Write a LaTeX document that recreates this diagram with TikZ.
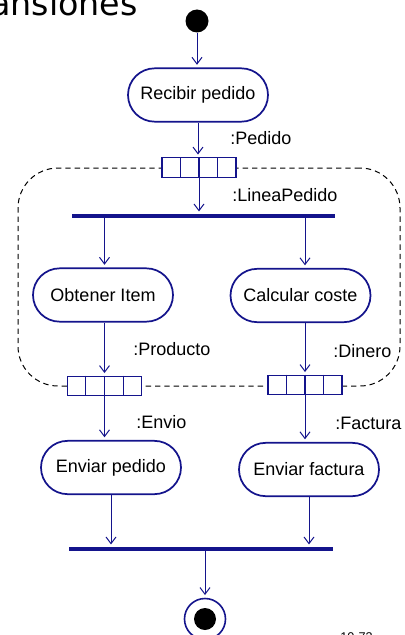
\documentclass[tikz,border=0pt]{standalone}
\usepackage{fontspec}
\setmainfont{Liberation Sans}
\newfontfamily\titlefont{DejaVu Sans}
\usetikzlibrary{arrows.meta, shapes.misc, calc}
\definecolor{umlblue}{RGB}{20,20,140}

\begin{document}
\begin{tikzpicture}[x=0.75pt, y=-0.75pt,
    action/.style={rounded rectangle, draw=umlblue, line width=1.3pt, fill=white, minimum width=105pt, minimum height=40pt, inner sep=0pt, font=\fontsize{13.5}{16}\selectfont},
    objpin/.style={rectangle, draw=umlblue, line width=0.9pt, fill=white, minimum width=55.5pt, minimum height=14.5pt, inner sep=0pt},
    bar/.style={rectangle, fill=umlblue, minimum height=2.4pt, inner sep=0pt},
    region/.style={rectangle, draw=black, dash pattern=on 4pt off 3pt, line width=0.75pt, rounded corners=30pt, minimum width=286.5pt, minimum height=163.5pt},
    flowlabel/.style={anchor=west, inner sep=0pt, font=\fontsize{13.5}{16}\selectfont},
    flow/.style={draw=umlblue, line width=0.75pt, -{Straight Barb[length=5pt, width=7.5pt]}, shorten >=2pt},
]
\useasboundingbox (0,0) rectangle (404,635);

% title and page number, cut by the page
\node[anchor=base east, inner sep=0pt, font=\titlefont\fontsize{25}{30}\selectfont] (title) at (138,16) {ansiones};
\node[anchor=north west, inner sep=0pt, font=\fontsize{9.5}{11}\selectfont] (pageno) at (340,632) {10-73};

% expansion region
\node[region] (exp) at (209,277) {};

% nodes
\node[circle, fill=black, minimum size=17.25pt, inner sep=0pt] (start) at (197,21) {};
\node[action] (recibir)  at (198,95)    {Recibir pedido};
\node[objpin] (pinT)     at (199,167.5) {};
\node[bar, minimum width=197.25pt] (fork) at (203.5,216) {};
\node[action] (obtener)  at (103,295)   {Obtener Item};
\node[action] (calcular) at (300.5,295.5) {Calcular coste};
\node[objpin] (pinL)     at (104.5,386) {};
\node[objpin] (pinR)     at (305,385)   {};
\node[action] (enviarp)  at (111,467.5) {Enviar pedido};
\node[action] (enviarf)  at (309,469.5) {Enviar factura};
\node[bar, minimum width=198pt] (join) at (201,549) {};
\node[circle, draw=umlblue, line width=1.2pt, fill=white, minimum size=30.75pt, inner sep=0pt] (final) at (205,619) {};
\node[circle, fill=black, minimum size=16.5pt, inner sep=0pt] (finaldot) at (final) {};

% pin cells
\foreach \p in {pinT,pinL,pinR}
  \foreach \i in {1,2,3}
    \draw[umlblue, line width=0.9pt] ($(\p.north west)!\i/4!(\p.north east)$) -- ($(\p.south west)!\i/4!(\p.south east)$);

% flows
\draw[flow] (start.south) -- (start.south |- recibir.north);
\draw[flow] (recibir.south) -- (recibir.south |- pinT.north);
\draw[flow] (pinT.south) -- (pinT.south |- fork.north);
\draw[flow] (pinL |- fork.south) -- (pinL |- obtener.north);
\draw[flow] (pinR |- fork.south) -- (pinR |- calcular.north);
\draw[flow] (pinL |- obtener.south) -- (pinL.north);
\draw[flow] (pinR |- calcular.south) -- (pinR.north);
\draw[flow] (pinL.south) -- (pinL.south |- enviarp.north);
\draw[flow] (pinR.south) -- (pinR.south |- enviarf.north);
\draw[flow] (enviarp.south) -- (enviarp.south |- join.north);
\draw[flow] (enviarf.south) -- (enviarf.south |- join.north);
\draw[flow] (final |- join.south) -- (final.north);

% object labels
\node[flowlabel] (lblpedido)   at (230,138) {:Pedido};
\node[flowlabel] (lbllinea)    at (232,195) {:LineaPedido};
\node[flowlabel] (lblproducto) at (133,349) {:Producto};
\node[flowlabel] (lbldinero)   at (333,351) {:Dinero};
\node[flowlabel] (lblenvio)    at (136,422) {:Envio};
\node[flowlabel] (lblfactura)  at (335,423) {:Factura};

\end{tikzpicture}
\end{document}
